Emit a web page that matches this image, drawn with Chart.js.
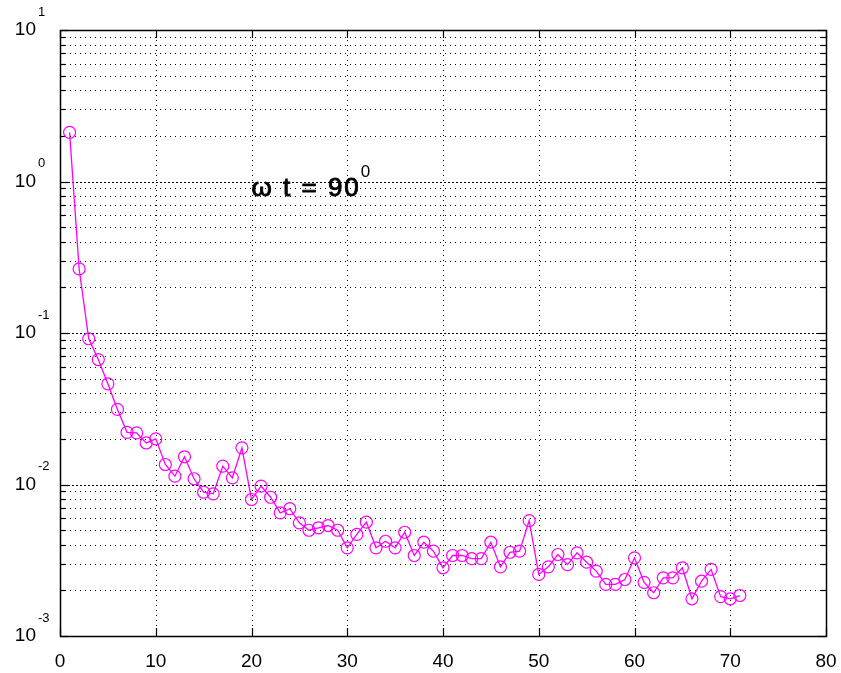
<!DOCTYPE html>
<html>
<head>
<meta charset="utf-8">
<script src="https://cdn.jsdelivr.net/npm/chart.js@4.4.0/dist/chart.umd.min.js"></script>
<style>
  html, body { margin: 0; padding: 0; background: #ffffff; }
  #wrap { width: 841px; height: 673px; }
</style>
</head>
<body>
<div id="wrap"><canvas id="c" width="841" height="673"></canvas></div>
<script>
// ---- data ----
const xValues = [1,2,3,4,5,6,7,8,9,10,11,12,13,14,15,16,17,18,19,20,
  21,22,23,24,25,26,27,28,29,30,31,32,33,34,35,36,37,38,39,40,
  41,42,43,44,45,46,47,48,49,50,51,52,53,54,55,56,57,58,59,60,
  61,62,63,64,65,66,67,68,69,70,71];
const yValues = [2.11,0.265,0.0916,0.0668,0.0462,0.0313,0.0221,0.0219,0.0188,0.0200,
  0.01355,0.01135,0.01524,0.01091,0.00889,0.00868,0.01321,0.01107,0.01746,0.00796,
  0.00975,0.00824,0.0065,0.00692,0.00558,0.00499,0.00518,0.00536,0.00499,0.00382,
  0.00468,0.00564,0.00382,0.00422,0.00382,0.00484,0.0034,0.00416,0.00363,0.00282,
  0.0034,0.0034,0.00324,0.00324,0.00416,0.00286,0.00357,0.00363,0.00578,0.00255,
  0.00286,0.00345,0.00296,0.00354,0.00307,0.00268,0.00219,0.00219,0.00236,0.00328,
  0.00226,0.00193,0.00242,0.00242,0.00282,0.00176,0.0023,0.00275,0.00182,0.00176,
  0.00185];
const xTicks = [0,10,20,30,40,50,60,70,80];
const yMajorTicks = [0.001,0.01,0.1,1,10];
const yExponents = ['-3','-2','-1','0','1'];
const yMinorTicks = [0.002,0.003,0.004,0.005,0.006,0.007,0.008,0.009,
  0.02,0.03,0.04,0.05,0.06,0.07,0.08,0.09,
  0.2,0.3,0.4,0.5,0.6,0.7,0.8,0.9,
  2,3,4,5,6,7,8,9];
const annotationText = 'ω t = 90';
const annotationSup = '0';
const annotationPos = { x: 20, y: 0.8 };

const FONT = '"Liberation Sans", Arial, sans-serif';

const gridPlugin = {
  id: 'matlabGrid',
  beforeDatasetsDraw(chart) {
    const { ctx, chartArea: a, scales: { x, y } } = chart;
    ctx.save();
    ctx.strokeStyle = '#000';
    ctx.lineWidth = 1;
    ctx.setLineDash([1, 4]);
    yMinorTicks.forEach(v => {
      const py = Math.round(y.getPixelForValue(v)) + 0.5;
      ctx.beginPath(); ctx.moveTo(a.left, py); ctx.lineTo(a.right, py); ctx.stroke();
    });
    ctx.setLineDash([2, 2]);
    yMajorTicks.forEach(v => {
      const py = Math.round(y.getPixelForValue(v)) + 0.5;
      ctx.beginPath(); ctx.moveTo(a.left, py); ctx.lineTo(a.right, py); ctx.stroke();
    });
    ctx.setLineDash([1, 4]);
    xTicks.forEach(v => {
      const px = Math.round(x.getPixelForValue(v)) + 0.5;
      ctx.beginPath(); ctx.moveTo(px, a.top); ctx.lineTo(px, a.bottom); ctx.stroke();
    });
    ctx.setLineDash([]);
    ctx.lineWidth = 1.5;
    ctx.strokeRect(Math.round(a.left) + 0.5, Math.round(a.top) + 0.5,
      Math.round(a.right - a.left), Math.round(a.bottom - a.top));
    ctx.lineWidth = 1.2;
    const tick = (x1, y1, x2, y2) => { ctx.beginPath(); ctx.moveTo(x1, y1); ctx.lineTo(x2, y2); ctx.stroke(); };
    yMajorTicks.forEach(v => {
      const py = Math.round(y.getPixelForValue(v)) + 0.5;
      tick(a.left, py, a.left + 8, py); tick(a.right, py, a.right - 8, py);
    });
    yMinorTicks.forEach(v => {
      const py = Math.round(y.getPixelForValue(v)) + 0.5;
      tick(a.left, py, a.left + 5, py); tick(a.right, py, a.right - 5, py);
    });
    xTicks.forEach(v => {
      const px = Math.round(x.getPixelForValue(v)) + 0.5;
      tick(px, a.bottom, px, a.bottom - 8); tick(px, a.top, px, a.top + 8);
    });
    ctx.restore();
  },
  afterDraw(chart) {
    const { ctx, scales: { x, y } } = chart;
    ctx.save();
    ctx.fillStyle = '#000';
    ctx.strokeStyle = '#000';
    ctx.font = '13px ' + FONT;
    ctx.textAlign = 'left';
    ctx.textBaseline = 'middle';
    yMajorTicks.forEach((v, i) => {
      const py = y.getPixelForValue(v);
      ctx.fillText(yExponents[i], 38, py - 18);
    });
    const ax = x.getPixelForValue(annotationPos.x);
    const ay = y.getPixelForValue(annotationPos.y);
    ctx.font = '26px ' + FONT;
    ctx.textBaseline = 'alphabetic';
    try { ctx.letterSpacing = '2px'; } catch (e) {}
    ctx.lineWidth = 0.9;
    ctx.fillText(annotationText, ax, ay);
    ctx.strokeText(annotationText, ax, ay);
    const w = ctx.measureText(annotationText).width;
    try { ctx.letterSpacing = '0px'; } catch (e) {}
    ctx.font = '17px ' + FONT;
    ctx.fillText(annotationSup, ax + w, ay - 19);
    ctx.restore();
  }
};

new Chart(document.getElementById('c'), {
  type: 'line',
  data: {
    datasets: [{
      data: xValues.map((v, i) => ({ x: v, y: yValues[i] })),
      borderColor: '#ff00ff',
      borderWidth: 1.3,
      pointStyle: 'circle',
      pointRadius: 6,
      pointBorderWidth: 1.2,
      pointBorderColor: '#ff00ff',
      pointBackgroundColor: 'rgba(0,0,0,0)',
      tension: 0,
      fill: false
    }]
  },
  options: {
    responsive: false,
    animation: false,
    devicePixelRatio: 1,
    layout: { padding: { top: 30, right: 15, left: 0, bottom: 0 } },
    plugins: { legend: { display: false }, tooltip: { enabled: false } },
    scales: {
      x: {
        type: 'linear', min: 0, max: 80,
        afterBuildTicks(s) { s.ticks = xTicks.map(v => ({ value: v })); },
        ticks: { color: '#000', font: { size: 19, family: FONT }, padding: 14, maxRotation: 0, autoSkip: false },
        grid: { display: false, drawTicks: false },
        border: { display: false },
        afterFit(s) { s.height = 37; s.paddingLeft = 0; s.paddingRight = 0; }
      },
      y: {
        type: 'logarithmic', min: 0.001, max: 10,
        afterBuildTicks(s) { s.ticks = yMajorTicks.map(v => ({ value: v })); },
        ticks: { color: '#000', font: { size: 19, family: FONT }, padding: 24, autoSkip: false,
          callback: () => '10' },
        grid: { display: false, drawTicks: false },
        border: { display: false },
        afterFit(s) { s.width = 60; s.paddingTop = 0; s.paddingBottom = 0; }
      }
    }
  },
  plugins: [gridPlugin]
});
</script>
</body>
</html>
